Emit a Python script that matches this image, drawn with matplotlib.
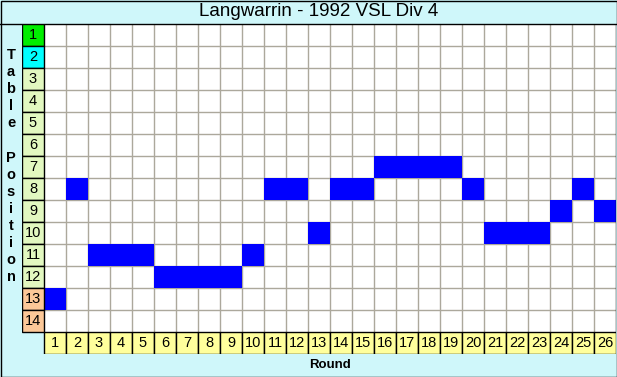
import numpy as np
import matplotlib.pyplot as plt
from matplotlib.patches import Rectangle

plt.rcParams['font.family'] = ['Liberation Sans', 'DejaVu Sans']

title = 'Langwarrin - 1992 VSL Div 4'
rounds = np.arange(1, 27)
positions = [13, 8, 11, 11, 11, 12, 12, 12, 12, 11, 8, 8, 10,
             8, 8, 7, 7, 7, 7, 8, 10, 10, 10, 9, 8, 9]
n_teams = 14
# colours of the table position label cells
pos_colors = ['#00ee00', '#00ffff'] + ['#e2f8c0'] * 10 + ['#fcc898'] * 2
round_color = '#ffff9c'
bg = '#cff7fa'

W, H = 617, 377
fig = plt.figure(figsize=(W / 100, H / 100), dpi=100)
fig.patch.set_facecolor(bg)

# background frame (pixel coords)
frame = fig.add_axes([0, 0, 1, 1])
frame.set_xlim(0, W)
frame.set_ylim(H, 0)
frame.axis('off')
frame.add_patch(Rectangle((0.5, 0.5), W - 1, H - 1, fc='none', ec='black', lw=1))
frame.plot([0, W], [24, 24], color='black', lw=1)
frame.text(319, 12, title, ha='center', va='center', fontsize=13.5)
frame.text(330, 365, 'Round', ha='center', va='center', fontsize=9.5, fontweight='bold')
for i, ch in enumerate('Table Position'):
    if ch != ' ':
        frame.text(11, 55 + i * 17.1, ch, ha='center', va='center',
                   fontsize=10.5, fontweight='bold')

# grid axes: x from -0.5 (label col) to 26.5, y from 0.5 to 15.5 (label row)
ax = fig.add_axes([22 / W, (H - 354) / H, 594 / W, 330 / H])
ax.set_xlim(-0.5, 26.5)
ax.set_ylim(15.5, 0.5)
ax.axis('off')
ax.add_patch(Rectangle((0.5, 0.5), 26, n_teams, fc='white', ec='none', zorder=0))

# gray grid
ax.vlines(np.arange(1.5, 26.5), 0.5, n_teams + 0.5, color='#aca89c', lw=1, zorder=1)
ax.hlines(np.arange(1.5, n_teams + 0.5), 0.5, 26.5, color='#aca89c', lw=1, zorder=1)

# positions
ax.bar(rounds, 1, bottom=np.array(positions) - 0.5, width=1,
       color='#0000ff', edgecolor='none', zorder=2)

# row labels
ax.barh(np.arange(1, n_teams + 1), 1, left=-0.5, height=1,
        color=pos_colors, edgecolor='black', lw=1, zorder=3)
for p in range(1, n_teams + 1):
    ax.text(0, p, str(p), ha='center', va='center', fontsize=10.5, zorder=4)

# round labels
ax.bar(rounds, 1, bottom=n_teams + 0.5, width=1,
       color=round_color, edgecolor='black', lw=1, zorder=3)
for r in rounds:
    ax.text(r, n_teams + 1, str(r), ha='center', va='center', fontsize=10.5, zorder=4)

# black border round the grid top/right
ax.plot([0.5, 26.5, 26.5], [0.5, 0.5, n_teams + 0.5], color='black', lw=1, zorder=5)

fig.savefig('out.png', dpi=100, facecolor=fig.get_facecolor())
